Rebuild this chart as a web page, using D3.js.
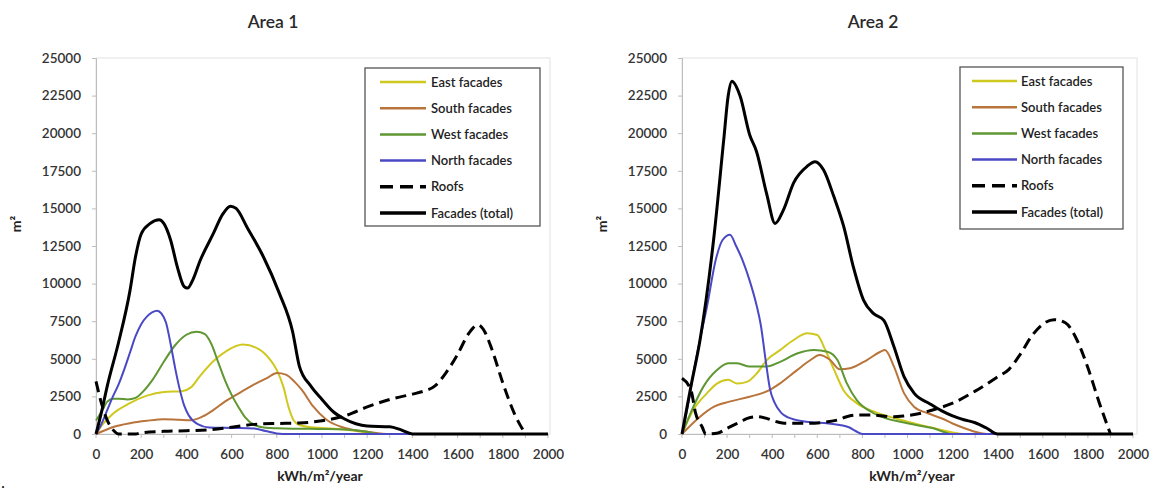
<!DOCTYPE html>
<html><head><meta charset="utf-8">
<script src="https://cdn.jsdelivr.net/npm/d3@7"></script>
<style>body{margin:0;background:#fff}svg{display:block}</style>
</head><body><svg id="c" width="1160" height="490"></svg>
<script>
// ---------- data ----------
const seriesNames = ["East facades","South facades","West facades","North facades","Roofs","Facades (total)"];
const areaTitles = ["Area 1","Area 2"];
const yTicks = [0,2500,5000,7500,10000,12500,15000,17500,20000,22500,25000];
const xTicks = [0,200,400,600,800,1000,1200,1400,1600,1800,2000];
const xMinorTicks = [0,100,200,300,400,500,600,700,800,900,1000,1100,1200,1300,1400,1500,1600,1700,1800,1900,2000];
const yLabel = "m²";
const xLabel = "kWh/m²/year";

// Area 1  ([kWh/m2/year, m2])
const a1East = [[0,0],[30,650],[75,1350],[150,2050],[225,2550],[300,2800],[380,2850],[420,3100],[460,3850],[520,4850],[580,5550],[650,5950],[720,5650],[770,4950],[800,4250],[830,3100],[850,1900],[875,900],[900,600],[950,450],[1000,400],[1100,300],[1200,100],[1250,0],[2000,0]];
const a1South = [[0,0],[40,250],[80,480],[150,720],[225,880],[300,980],[370,940],[420,920],[470,1150],[520,1600],[570,2150],[620,2600],[700,3300],[760,3750],[800,4050],[840,3950],[880,3450],[910,2950],[960,1850],[1020,950],[1080,500],[1140,270],[1200,150],[1300,0],[2000,0]];
const a1West = [[0,900],[25,1500],[50,2150],[75,2350],[100,2350],[140,2300],[175,2400],[210,2850],[250,3600],[300,4800],[350,5900],[400,6600],[445,6800],[480,6650],[510,6000],[540,4800],[570,3600],[600,2600],[630,1800],[660,1100],[700,600],[750,420],[800,380],[900,350],[1000,330],[1100,300],[1200,150],[1250,0],[2000,0]];
const a1North = [[0,0],[25,700],[50,1600],[75,2500],[100,3300],[125,4300],[150,5400],[175,6500],[200,7300],[225,7800],[250,8100],[270,8200],[290,8000],[310,7400],[330,6000],[350,4400],[370,3000],[390,1900],[410,1250],[450,650],[500,430],[600,400],[700,370],[750,200],[800,40],[850,0],[2000,0]];
const a1Roofs = [[0,3500],[25,2000],[50,900],[80,200],[100,0],[175,0],[200,80],[300,180],[400,220],[500,280],[600,450],[700,640],[800,700],[900,730],[1000,880],[1100,1200],[1200,1800],[1300,2300],[1400,2650],[1450,2850],[1500,3200],[1550,4100],[1600,5300],[1650,6700],[1690,7250],[1720,6800],[1750,5700],[1800,3400],[1850,1400],[1900,0]];
const a1Total = [[0,0],[25,1500],[50,3200],[100,6100],[150,9500],[175,11800],[200,13300],[240,14000],[280,14250],[300,14000],[330,12900],[360,11100],[390,9800],[405,9700],[430,10300],[460,11500],[520,13350],[560,14600],[595,15150],[620,15000],[670,13700],[740,11800],[810,9400],[870,6800],[900,4500],[950,3200],[1000,2300],[1050,1480],[1100,1000],[1150,680],[1200,530],[1300,480],[1350,270],[1400,0],[2000,0]];

// Area 2
const a2East = [[0,0],[50,1600],[110,2700],[155,3350],[205,3600],[245,3350],[290,3480],[330,4000],[375,4900],[435,5580],[495,6250],[555,6700],[600,6580],[635,5600],[675,4250],[715,2950],[775,2050],[850,1500],[1000,820],[1100,450],[1150,270],[1200,100],[1250,0],[2000,0]];
const a2South = [[0,0],[80,1150],[140,1800],[210,2150],[300,2480],[390,2930],[435,3370],[510,4250],[570,4920],[610,5250],[655,4950],[700,4300],[745,4370],[820,4920],[880,5470],[900,5580],[940,4480],[985,2700],[1030,1800],[1090,1380],[1150,1050],[1200,700],[1250,400],[1300,150],[1350,0],[2000,0]];
const a2West = [[0,0],[50,1800],[95,3150],[155,4250],[205,4700],[245,4700],[300,4480],[375,4480],[435,4800],[510,5350],[585,5580],[645,5470],[690,4900],[730,3400],[775,2250],[850,1380],[1000,710],[1115,380],[1200,0],[2000,0]];
const a2North = [[0,0],[25,1800],[50,4000],[80,6300],[110,8400],[150,11600],[180,12900],[213,13250],[240,12500],[270,11500],[300,10200],[330,8600],[350,7200],[370,5000],[390,3000],[410,2100],[440,1400],[470,1100],[550,820],[650,700],[700,600],[740,450],[770,200],[800,0],[2000,0]];
const a2Roofs = [[0,3700],[40,2900],[60,1400],[90,450],[105,0],[160,70],[200,380],[260,820],[290,1040],[330,1150],[375,1040],[420,820],[465,710],[550,710],[640,800],[690,930],[730,1150],[780,1260],[850,1260],[900,1180],[940,1150],[985,1200],[1060,1380],[1100,1550],[1200,2050],[1300,2850],[1400,3800],[1450,4300],[1500,5300],[1550,6500],[1600,7300],[1650,7600],[1700,7400],[1750,6300],[1800,4400],[1850,2100],[1900,0]];
const a2Total = [[0,0],[40,3200],[80,6250],[140,12900],[185,19550],[205,22500],[221,23450],[258,22450],[300,19900],[330,18800],[375,16000],[413,14000],[450,14900],[495,16700],[555,17800],[590,18100],[628,17550],[673,15800],[717,13800],[760,11100],[805,8900],[850,8000],[895,7550],[940,5800],[985,3800],[1030,2700],[1100,2000],[1150,1550],[1200,1200],[1250,950],[1300,750],[1350,400],[1400,0],[2000,0]];

// ---------- styles ----------
const styles = [
  {color:"#cfc81e", width:2, dash:null},
  {color:"#b8743a", width:2, dash:null},
  {color:"#5f9732", width:2, dash:null},
  {color:"#4a48c4", width:2, dash:null},
  {color:"#000", width:3, dash:"11,6"},
  {color:"#000", width:3, dash:null}
];
const FONT = "Lato, 'Open Sans', sans-serif";

const svg = d3.select("#c");

function panel(cfg, data, title) {
  const x = d3.scaleLinear().domain([0,2000]).range([cfg.x0, cfg.x1]);
  const y = d3.scaleLinear().domain([0,25000]).range([434, 58]);
  const g = svg.append("g");

  g.append("rect").attr("x", cfg.x0).attr("y", y(25000)).attr("width", cfg.border - cfg.x0)
    .attr("height", y(0) - y(25000)).attr("fill","none").attr("stroke","#e2e2e2").attr("stroke-width",1);

  const ya = g.append("g").attr("transform", `translate(${cfg.x0},0)`)
    .call(d3.axisLeft(y).tickValues(yTicks).tickSize(4).tickPadding(11).tickFormat(d3.format("d")));
  ya.select(".domain").attr("stroke","#bdbdbd");
  ya.selectAll(".tick line").attr("stroke","#bdbdbd");
  ya.selectAll("text").attr("font-family",FONT).attr("font-size","13.5px").attr("fill","#333").attr("font-weight","600");

  const xa = g.append("g").attr("transform", `translate(0,${y(0)})`)
    .call(d3.axisBottom(x).tickValues(xTicks).tickSize(0).tickPadding(15).tickFormat(d3.format("d")));
  xa.select(".domain").attr("stroke","#bdbdbd");
  xa.selectAll("text").attr("font-family",FONT).attr("font-size","13.5px").attr("fill","#333").attr("font-weight","600");
  g.append("g").selectAll("line").data(xMinorTicks).join("line")
    .attr("x1", d=>x(d)).attr("x2", d=>x(d)).attr("y1", y(0)).attr("y2", y(0)+4).attr("stroke","#bdbdbd");

  g.append("text").attr("x", cfg.titleX).attr("y", 28).attr("text-anchor","middle")
    .attr("font-family",FONT).attr("font-size","17.5px").attr("font-weight","600").attr("fill","#2a2a2a").text(title);

  g.append("text").attr("transform", `translate(${cfg.ylabX},224) rotate(-90)`).attr("text-anchor","middle")
    .attr("font-family",FONT).attr("font-size","14px").attr("font-weight","bold").attr("fill","#222").text(yLabel);
  g.append("text").attr("x", cfg.xlabX).attr("y", 481).attr("text-anchor","middle")
    .attr("font-family",FONT).attr("font-size","14px").attr("font-weight","bold").attr("fill","#222").text(xLabel);

  const line = d3.line().x(d=>x(d[0])).y(d=>y(d[1])).curve(d3.curveMonotoneX);
  data.forEach((s,i)=>{
    g.append("path").attr("d", line(s)).attr("fill","none")
      .attr("stroke", styles[i].color).attr("stroke-width", styles[i].width)
      .attr("stroke-dasharray", styles[i].dash).attr("stroke-linejoin","round");
  });

  const L = cfg.legend;
  g.append("rect").attr("x",L.x).attr("y",L.y).attr("width",L.w).attr("height",L.h)
    .attr("fill","#fff").attr("stroke","#555").attr("stroke-width",1.3);
  seriesNames.forEach((n,i)=>{
    const yy = L.y + 14 + i*26.2;
    g.append("line").attr("x1",L.lx1).attr("x2",L.lx2).attr("y1",yy).attr("y2",yy)
      .attr("stroke", styles[i].color).attr("stroke-width", styles[i].width + 0.5)
      .attr("stroke-dasharray", styles[i].dash ? "13,7" : null);
    g.append("text").attr("x",L.tx).attr("y",yy+4.5).attr("font-family",FONT).attr("font-size","13px")
      .attr("fill","#222").attr("font-weight","600").text(n);
  });
}

panel({x0:96, x1:548, border:550, titleX:273, ylabX:21, xlabX:320,
       legend:{x:365,y:68,w:175,h:158,lx1:380,lx2:426,tx:431}},
      [a1East,a1South,a1West,a1North,a1Roofs,a1Total], areaTitles[0]);
panel({x0:682, x1:1133, border:1137, titleX:873, ylabX:607, xlabX:912,
       legend:{x:960,y:67,w:163,h:162,lx1:972,lx2:1017,tx:1021}},
      [a2East,a2South,a2West,a2North,a2Roofs,a2Total], areaTitles[1]);

svg.append("text").attr("x",1).attr("y",488).attr("font-family","'Liberation Serif', serif").attr("font-size","16px").text(".");
</script></body></html>
